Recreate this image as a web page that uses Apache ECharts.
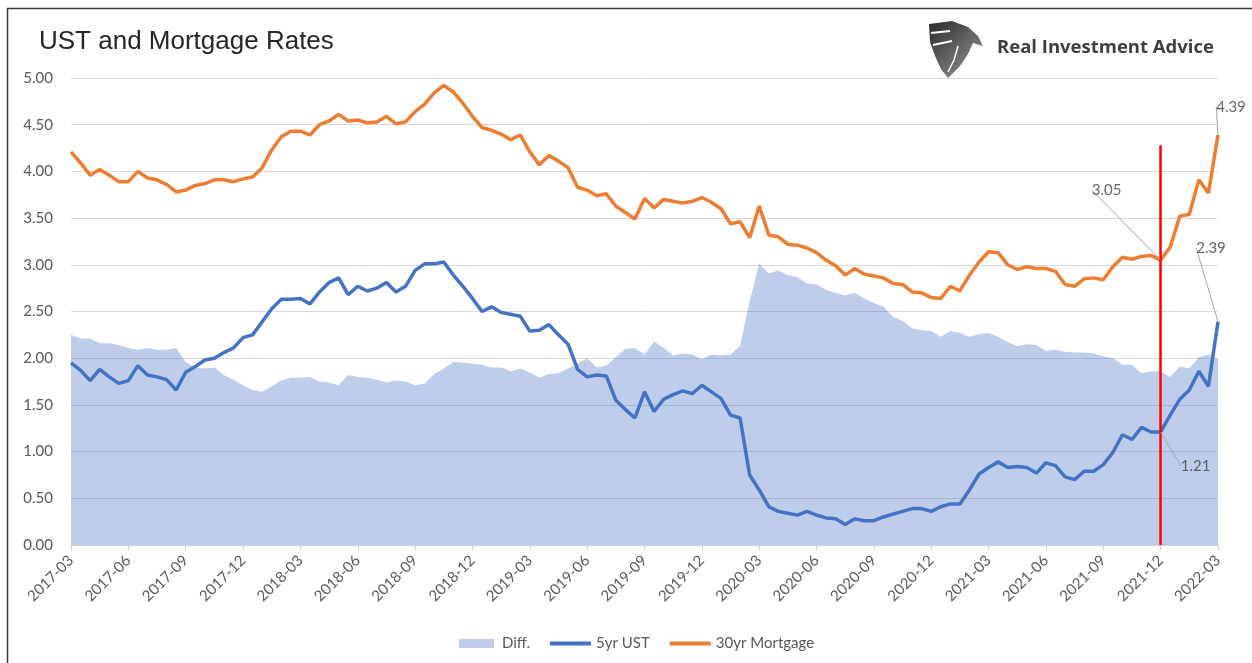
<!DOCTYPE html>
<html>
<head>
<meta charset="utf-8">
<script src="https://cdn.jsdelivr.net/npm/echarts@6/dist/echarts.min.js"></script>
<style>
  html, body { margin: 0; padding: 0; background: #fff; }
  #chart { width: 1252px; height: 663px; }
</style>
</head>
<body>
<div id="chart"></div>
<script>
// semi-monthly readings, 2017-03 .. 2022-03
const dates = [];
for (let k = 0; k <= 120; k++) {
    const m = 2 + Math.floor(k / 2);
    const y = 2017 + Math.floor(m / 12);
    dates.push(y + '-' + String(m % 12 + 1).padStart(2, '0') + (k % 2 ? '-16' : '-01'));
}

const mortgage = [
    4.21, 4.09, 3.96, 4.02, 3.96, 3.89, 3.89, 4.00, 3.93, 3.91, 3.86, 3.78, 3.80, 3.85, 3.87,
    3.91, 3.91, 3.89, 3.92, 3.94, 4.04, 4.23, 4.37, 4.43, 4.43, 4.39, 4.50, 4.54, 4.61, 4.54,
    4.55, 4.52, 4.53, 4.59, 4.51, 4.53, 4.64, 4.72, 4.84, 4.92, 4.85, 4.73, 4.59, 4.47, 4.44,
    4.40, 4.34, 4.39, 4.21, 4.07, 4.17, 4.11, 4.04, 3.83, 3.80, 3.74, 3.76, 3.63, 3.56, 3.49,
    3.71, 3.61, 3.70, 3.68, 3.66, 3.68, 3.72, 3.67, 3.60, 3.44, 3.46, 3.29, 3.63, 3.32, 3.30,
    3.22, 3.21, 3.18, 3.13, 3.05, 2.99, 2.89, 2.96, 2.90, 2.88, 2.86, 2.80, 2.79, 2.71, 2.70,
    2.65, 2.64, 2.77, 2.72, 2.89, 3.03, 3.14, 3.13, 3.00, 2.95, 2.98, 2.96, 2.96, 2.93, 2.79,
    2.77, 2.85, 2.86, 2.84, 2.98, 3.08, 3.06, 3.09, 3.10, 3.05, 3.19, 3.52, 3.54, 3.91, 3.77,
    4.39
];

const ust5 = [
    1.95, 1.87, 1.76, 1.88, 1.80, 1.73, 1.76, 1.92, 1.82, 1.80, 1.77, 1.66, 1.85, 1.91, 1.98,
    2.00, 2.06, 2.11, 2.22, 2.25, 2.39, 2.53, 2.63, 2.63, 2.64, 2.58, 2.71, 2.81, 2.86, 2.68,
    2.77, 2.72, 2.75, 2.81, 2.71, 2.77, 2.94, 3.01, 3.01, 3.03, 2.89, 2.77, 2.64, 2.50, 2.55,
    2.49, 2.47, 2.45, 2.29, 2.30, 2.36, 2.25, 2.15, 1.88, 1.80, 1.82, 1.81, 1.55, 1.45, 1.36,
    1.64, 1.43, 1.56, 1.61, 1.65, 1.62, 1.71, 1.64, 1.57, 1.39, 1.36, 0.75, 0.59, 0.41, 0.36,
    0.34, 0.32, 0.36, 0.32, 0.29, 0.28, 0.22, 0.28, 0.26, 0.26, 0.30, 0.33, 0.36, 0.39, 0.39,
    0.36, 0.41, 0.44, 0.44, 0.59, 0.76, 0.83, 0.89, 0.83, 0.84, 0.83, 0.77, 0.88, 0.85, 0.73,
    0.70, 0.79, 0.79, 0.86, 0.99, 1.18, 1.13, 1.26, 1.21, 1.21, 1.39, 1.56, 1.66, 1.86, 1.70,
    2.39
];

const diff = [
    2.25, 2.21, 2.21, 2.16, 2.16, 2.14, 2.11, 2.09, 2.11, 2.09, 2.09, 2.11, 1.96, 1.90, 1.89,
    1.90, 1.82, 1.77, 1.71, 1.66, 1.64, 1.70, 1.76, 1.79, 1.79, 1.80, 1.75, 1.74, 1.71, 1.82,
    1.80, 1.79, 1.77, 1.74, 1.76, 1.75, 1.71, 1.73, 1.83, 1.89, 1.96, 1.95, 1.94, 1.93, 1.90,
    1.90, 1.86, 1.89, 1.85, 1.79, 1.83, 1.84, 1.89, 1.94, 2.00, 1.90, 1.92, 2.01, 2.10, 2.11,
    2.04, 2.18, 2.11, 2.03, 2.05, 2.04, 1.99, 2.04, 2.03, 2.04, 2.13, 2.61, 3.01, 2.91, 2.94,
    2.89, 2.87, 2.80, 2.79, 2.73, 2.70, 2.67, 2.70, 2.64, 2.59, 2.55, 2.44, 2.40, 2.32, 2.30,
    2.29, 2.23, 2.29, 2.27, 2.23, 2.26, 2.27, 2.23, 2.17, 2.13, 2.15, 2.14, 2.08, 2.09, 2.07,
    2.06, 2.06, 2.05, 2.02, 2.00, 1.93, 1.93, 1.84, 1.86, 1.86, 1.80, 1.91, 1.89, 2.01, 2.04,
    1.99
];

const markIdx = 114;      // 2021-12
const markTop = 4.28;     // top of the red marker line
const lastIdx = dates.length - 1;

const callouts = [
    [markIdx, mortgage[markIdx]],
    [markIdx, ust5[markIdx]],
    [lastIdx, ust5[lastIdx]],
    [lastIdx, mortgage[lastIdx]]
];
const calloutShift = [[-54, -70], [35, 34], [-7, -74], [13, -28]];

const textColor = '#595959';
const font = 'Lato, "Open Sans", sans-serif';

let chart = echarts.init(document.getElementById('chart'), null, { renderer: 'canvas' });
chart.setOption({
    animation: false,
    backgroundColor: '#fff',
    title: {
        text: 'UST and Mortgage Rates',
        left: 34,
        top: 24,
        textStyle: {
            fontFamily: '"Liberation Sans", Arial, sans-serif',
            fontSize: 26,
            fontWeight: 'normal',
            color: '#262626'
        }
    },
    graphic: [
        {
            type: 'rect',
            shape: { x: 7.5, y: 8.5, width: 1300, height: 700 },
            style: { fill: 'none', stroke: '#3a3a3a', lineWidth: 1.5 },
            silent: true
        },
        {
            type: 'polygon',
            shape: {
                points: [[929, 24], [952, 21], [968, 27], [978, 36], [983, 46], [973, 43],
                         [968, 54], [960, 66], [948, 78], [941, 69], [935, 56], [930, 42]]
            },
            style: {
                fill: new echarts.graphic.LinearGradient(0, 0, 1, 1, [
                    { offset: 0, color: '#2b2b2b' },
                    { offset: 1, color: '#9a9a9a' }
                ])
            },
            silent: true
        },
        {
            type: 'polyline',
            shape: { points: [[931, 33], [950, 31]] },
            style: { stroke: '#fff', lineWidth: 2 },
            silent: true
        },
        {
            type: 'polyline',
            shape: { points: [[933, 45], [952, 41]] },
            style: { stroke: '#fff', lineWidth: 2 },
            silent: true
        },
        {
            type: 'polyline',
            shape: { points: [[958, 46], [954, 60], [948, 72]] },
            style: { stroke: '#fff', lineWidth: 1.5 },
            silent: true
        },
        {
            type: 'text',
            left: 997,
            top: 38,
            style: {
                text: 'Real Investment Advice',
                font: 'bold 18.5px "Open Sans", sans-serif',
                fill: '#3f3f3f'
            },
            silent: true
        }
    ],
    grid: {
        left: 71,
        right: 34,
        top: 78,
        bottom: 118
    },
    legend: {
        left: 454,
        top: 631,
        itemGap: 20,
        itemWidth: 41,
        itemHeight: 9,
        textStyle: { color: textColor, fontSize: 15, fontFamily: font },
        data: [
            { name: 'Diff.', icon: 'path://M0,0H35V9H0Z', itemStyle: { color: '#bfcde8' } },
            { name: '5yr UST', icon: 'path://M0,0H41V4H0Z' },
            { name: '30yr Mortgage', icon: 'path://M0,0H41V4H0Z' }
        ]
    },
    xAxis: {
        type: 'category',
        data: dates,
        boundaryGap: false,
        axisLine: { lineStyle: { color: '#d0d0d0' } },
        axisTick: { interval: 5, length: 5, lineStyle: { color: '#d0d0d0' } },
        axisLabel: {
            interval: 5,
            rotate: 45,
            margin: 13,
            color: textColor,
            fontSize: 15,
            fontFamily: font,
            formatter: v => v.slice(0, 7)
        },
        splitLine: { show: false }
    },
    yAxis: {
        type: 'value',
        min: 0,
        max: 5,
        interval: 0.5,
        axisLine: { show: false },
        axisTick: { show: false },
        axisLabel: {
            color: textColor,
            fontSize: 15,
            fontFamily: font,
            margin: 18,
            formatter: v => v.toFixed(2)
        },
        splitLine: { lineStyle: { color: '#d9d9d9', width: 1 } }
    },
    series: [
        {
            name: 'Diff.',
            type: 'line',
            data: diff,
            symbol: 'none',
            color: '#bfcde8',
            lineStyle: { width: 0 },
            areaStyle: { color: '#4472c4', opacity: 0.35 }
        },
        {
            name: '5yr UST',
            type: 'line',
            data: ust5,
            symbol: 'none',
            color: '#4472c4',
            lineStyle: { width: 3.5 }
        },
        {
            name: '30yr Mortgage',
            type: 'line',
            data: mortgage,
            symbol: 'none',
            color: '#ed7d31',
            lineStyle: { width: 3.5 },
            markLine: {
                silent: true,
                symbol: 'none',
                label: { show: false },
                lineStyle: { color: '#ff0000', width: 2.5, type: 'solid' },
                data: [[{ coord: [dates[markIdx], 0] }, { coord: [dates[markIdx], markTop] }]]
            }
        },
        {
            name: 'callouts',
            type: 'scatter',
            data: callouts,
            symbolSize: 0,
            silent: true,
            z: 5,
            label: {
                show: true,
                position: 'inside',
                color: '#404040',
                fontSize: 15,
                fontFamily: font,
                formatter: p => p.value[1].toFixed(2)
            },
            labelLine: {
                show: true,
                lineStyle: { color: '#a6a6a6', width: 1 }
            },
            labelLayout: p => ({ dx: calloutShift[p.dataIndex][0], dy: calloutShift[p.dataIndex][1] })
        }
    ]
});
</script>
</body>
</html>
